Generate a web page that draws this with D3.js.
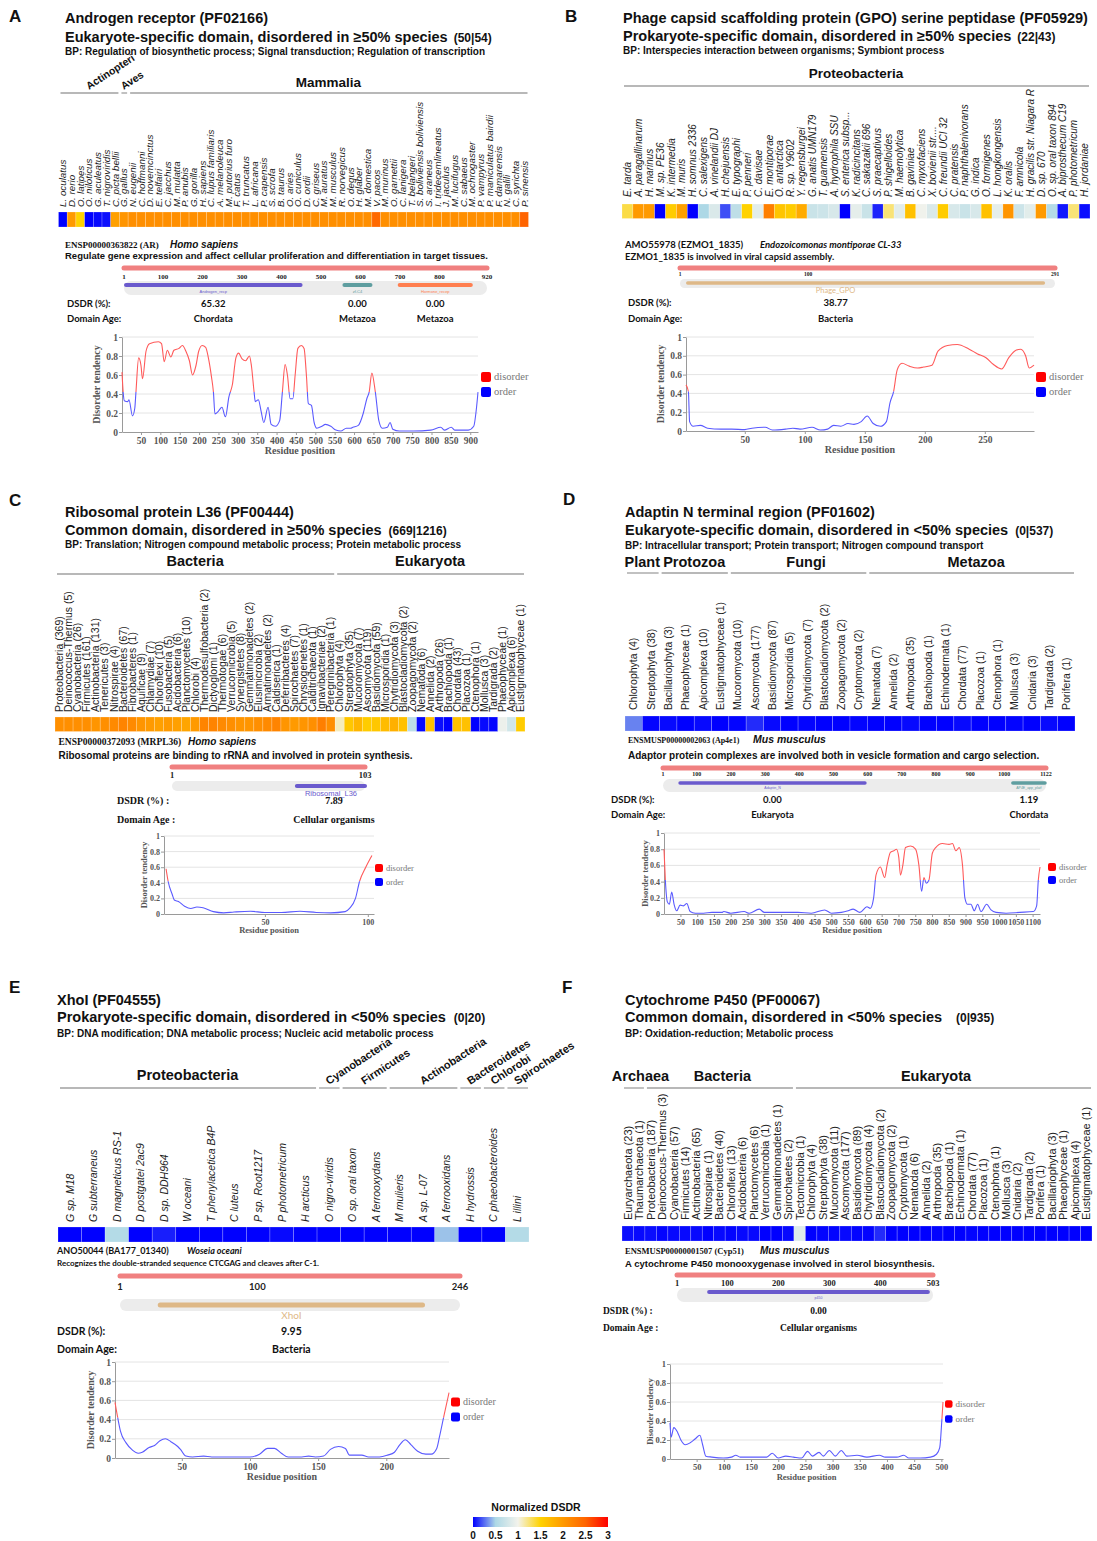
<!DOCTYPE html>
<html>
<head>
<meta charset="utf-8">
<script src="https://cdn.jsdelivr.net/npm/d3@7"></script>
<style>body{margin:0;background:#fff}</style>
</head>
<body>
<svg id="fig" width="1097" height="1541"></svg>
<script>
// ---------------- data ----------------
// Panel A
const titleA = ["Androgen receptor  (PF02166)", "Eukaryote-specific domain, disordered in \u226550% species", "(50|54)",
    "BP: Regulation of biosynthetic process; Signal transduction; Regulation of transcription"];
const speciesA = ["L. oculatus","D. rerio","O. latipes","O. niloticus","G. aculeatus","T. nigroviridis","C. picta bellii","G. gallus",
    "N. eugenii","C. hoffmanni","D. novemcinctus","E. telfairi","C. jacchus","M. mulatta","P. anubis","G. gorilla","H. sapiens",
    "C. lupus familiaris","A. melanoleuca","M. putorius furo","F. catus","T. truncatus","L. africana","P. capensis","S. scrofa",
    "B. taurus","O. aries","O. cuniculus","D. ordii","C. griseus","M. auratus","M. musculus","R. norvegicus","O. degus","H. glaber",
    "M. domestica","V. pacos","M. murinus","O. garnettii","C. lanigera","T. belangeri","S. boliviensis boliviensis","S. araneus",
    "I. tridecemlineatus","J. jaculus","M. lucifugus","C. sabaeus","M. ochrogaster","P. vampyrus","P. maniculatus bairdii",
    "F. damarensis","N. galili","C. syrichta","P. sinensis"];
const dsdrA = [0.0,2.0,1.5,0.0,0.02,0.04,1.95,2.05,2.1,2.1,2.1,2.1,2.1,2.1,2.1,2.1,2.1,2.1,2.1,2.1,2.1,2.1,2.1,2.1,2.1,2.1,2.1,2.1,
    2.1,2.1,2.1,2.1,2.1,2.1,2.1,2.1,2.45,2.1,2.1,2.1,2.1,2.1,2.1,2.1,2.1,2.1,2.1,2.1,2.1,2.1,2.1,2.1,2.1,2.5];
const groupsA = [["Actinopteri",7],["Aves",1],["Mammalia",46]];
const proteinA = ["ENSP00000363822 (AR)", "Homo sapiens", "Regulate gene expression and affect cellular proliferation and differentiation in target tissues.", 920];
const protTicksA = [1,100,200,300,400,500,600,700,800,920];
const domainsA = [["Androgen_recp",6,448],["zf-C4",559,625],["Hormone_recep",699,879]];
const domDsdrA = ["65.32","0.00","0.00"];
const domAgeA = ["Chordata","Metazoa","Metazoa"];
const xTicksA = [50,100,150,200,250,300,350,400,450,500,550,600,650,700,750,800,850,900];
const profileA = [[1,0.63],[4,0.42],[7,0.33],[16,0.32],[19,0.34],[28,0.17],[34,0.25],[37,0.42],[44,0.78],[50,0.7],[54,0.56],[63,0.85],
    [72,0.93],[95,0.95],[103,0.93],[110,0.74],[118,0.86],[127,0.79],[135,0.86],[148,0.88],[157,0.91],[166,0.85],[175,0.75],[183,0.6],
    [192,0.7],[199,0.85],[208,0.91],[217,0.89],[224,0.78],[232,0.58],[237,0.42],[241,0.19],[250,0.22],[259,0.26],[268,0.16],
    [277,0.37],[286,0.5],[295,0.78],[302,0.83],[311,0.77],[320,0.75],[330,0.8],[335,0.7],[342,0.42],[345,0.32],[353,0.34],
    [360,0.22],[367,0.1],[378,0.26],[386,0.08],[397,0.06],[408,0.12],[415,0.42],[422,0.71],[428,0.6],[435,0.35],[442,0.35],
    [448,0.6],[455,0.88],[464,0.91],[471,0.88],[477,0.6],[482,0.3],[490,0.28],[497,0.1],[504,0.04],[517,0.06],[526,0.08],
    [540,0.06],[553,0.02],[566,0.01],[580,0.04],[591,0.04],[597,0.05],[611,0.07],[624,0.2],[633,0.35],[639,0.42],[646,0.62],
    [655,0.42],[664,0.12],[673,0.04],[686,0.05],[693,0.1],[700,0.03],[717,0.01],[753,0.01],[798,0.02],[824,0.05],[833,0.02],
    [851,0.05],[860,0.02],[895,0.02],[909,0.06],[916,0.25],[920,0.42]];

// Panel B
const titleB = ["Phage capsid scaffolding protein (GPO) serine peptidase (PF05929)", "Prokaryote-specific domain, disordered in \u226550% species", "(22|43)",
    "BP: Interspecies interaction between organisms; Symbiont process"];
const speciesB = ["E. tarda","A. paragallinarum","H. marinus","M. sp. PE36","K. intermedia","M. muris","H. somnus 2336","C. salexigens",
    "A. vinelandii DJ","H. chejuensis","E. typographi","P. penneri","C. davisae","E. montiporae","O. antarctica","R. sp. Y9602",
    "Y. regensburgei","G. anatis UMN179","T. guamensis","A. hydrophila SSU","S. enterica subsp...","K. radicincitans","C. sakazakii 696",
    "S. praecaptivus","P. shigelloides","M. haemolytica","B. gaviniae","C. myxofaciens","X. bovienii str....","C. freundii UCI 32",
    "C. pratensis","P. naphthalenivorans","G. indica","O. formigenes","L. hongkongensis","K. oralis","F. amnicola",
    "H. gracilis str. Niagara R","D. sp. 670","O. sp. oral taxon 894","A. biprosthecum C19","P. photometricum","H. jordaniae"];
const dsdrB = [1.35,2.0,2.0,0.0,1.55,1.95,0.0,0.5,0.82,0.18,0.62,1.5,0.88,2.25,1.62,1.55,1.85,0.7,0.72,0.8,0.0,0.9,0.7,0.08,
    1.25,0.88,1.65,0.98,0.82,1.55,0.8,0.7,0.8,1.65,0.9,2.05,0.72,0.88,2.0,0.55,0.05,1.25,0.03];
const groupsB = [["Proteobacteria",43]];
const proteinB = ["AMO55978 (EZMO1_1835)", "Endozoicomonas montiporae CL-33", "EZMO1_1835 is involved in viral capsid assembly.", 291];
const protTicksB = [1,100,291];
const domainsB = [["Phage_GPO",7,282]];
const domDsdrB = ["38.77"];
const domAgeB = ["Bacteria"];
const xTicksB = [50,100,150,200,250];
const profileB = [[1,0.49],[3,0.42],[4,0.1],[7,0.05],[13,0.06],[19,0.03],[30,0.02],[39,0.02],[50,0.015],[56,0.03],[67,0.04],
    [73,0.01],[84,0.02],[90,0.03],[96,0.02],[106,0.04],[113,0.01],[119,0.02],[124,0.06],[130,0.05],[136,0.08],[141,0.07],
    [147,0.1],[152,0.16],[157,0.08],[163,0.05],[168,0.1],[171,0.3],[174,0.42],[177,0.65],[181,0.72],[187,0.69],[194,0.67],
    [199,0.68],[206,0.7],[211,0.85],[219,0.91],[227,0.92],[237,0.87],[244,0.82],[251,0.78],[257,0.71],[264,0.66],[270,0.78],
    [276,0.86],[280,0.87],[284,0.8],[287,0.67],[291,0.7]];

// Panel C
const titleC = ["Ribosomal protein L36  (PF00444)", "Common domain, disordered in \u226550% species", "(669|1216)",
    "BP: Translation; Nitrogen compound metabolic process; Protein metabolic process"];
const speciesC = ["Proteobacteria (369)","Deinococcus-Thermus (5)","Cyanobacteria (26)","Firmicutes (161)","Actinobacteria (131)",
    "Tenericutes (3)","Nitrospirae (4)","Bacteroidetes (67)","Fibrobacteres (1)","Aquificae (9)","Chlamydiae (7)","Chloroflexi (10)",
    "Fusobacteria (5)","Acidobacteria (6)","Planctomycetes (10)","Chlorobi (4)","Thermodesulfobacteria (2)","Dictyoglomi (1)",
    "Thermotogae (6)","Verrucomicrobia (5)","Synergistetes (8)","Gemmatimonadetes (2)","Elusimicrobia (2)","Armatimonadetes (2)",
    "Caldiserica (1)","Deferribacteres (4)","Spirochaetes (7)","Chrysiogenetes (1)","Calditrichaeota (1)","Ignavibacteriae (2)",
    "Peregrinibacteria (1)","Chlorophyta (4)","Streptophyta (35)","Mucoromycota (7)","Ascomycota (119)","Basidiomycota (59)",
    "Microsporidia (1)","Chytridiomycota (3)","Blastocladiomycota (2)","Zoopagomycota (2)","Nematoda (6)","Annelida (2)",
    "Arthropoda (26)","Brachiopoda (1)","Chordata (43)","Placozoa (1)","Ctenophora (1)","Mollusca (3)","Tardigrada (2)",
    "Phaeophyceae (1)","Apicomplexa (6)","Eustigmatophyceae (1)"];
const dsdrC = [2.1,2.1,2.1,2.1,2.05,2.1,2.15,2.2,2.15,2.05,2.0,1.95,2.0,1.95,1.9,2.0,2.2,2.2,2.15,2.1,2.05,2.05,2.1,2.15,2.2,
    2.05,2.0,2.05,2.1,2.25,2.1,1.1,1.6,1.75,1.55,1.6,1.7,1.8,1.65,0.6,0.02,1.65,0.03,0.0,1.65,1.65,0.0,0.02,0.01,0.95,0.75,1.55];
const groupsC = [["Bacteria",31],["Eukaryota",21]];
const proteinC = ["ENSP00000372093 (MRPL36)", "Homo sapiens", "Ribosomal proteins are binding to rRNA and involved in protein synthesis.", 103];
const protTicksC = [1,103];
const domainsC = [["Ribosomal_L36",67,103]];
const domDsdrC = ["7.89"];
const domAgeC = ["Cellular organisms"];
const xTicksC = [50,100];
const profileC = [[2,0.58],[3,0.42],[5,0.25],[6,0.18],[8,0.16],[11,0.1],[14,0.07],[17,0.09],[20,0.08],[25,0.03],[30,0.015],
    [35,0.025],[43,0.035],[50,0.02],[58,0.02],[67,0.035],[75,0.02],[82,0.015],[89,0.03],[91,0.07],[94,0.2],[96,0.42],[99,0.6],[102,0.75]];

// Panel D
const titleD = ["Adaptin N terminal region (PF01602)", "Eukaryote-specific domain, disordered in <50% species", "(0|537)",
    "BP: Intracellular transport; Protein transport; Nitrogen compound transport"];
const speciesD = ["Chlorophyta (4)","Streptophyta (38)","Bacillariophyta (3)","Phaeophyceae (1)","Apicomplexa (10)",
    "Eustigmatophyceae (1)","Mucoromycota (10)","Ascomycota (177)","Basidiomycota (87)","Microsporidia (5)","Chytridiomycota (7)",
    "Blastocladiomycota (2)","Zoopagomycota (2)","Cryptomycota (2)","Nematoda (7)","Annelida (2)","Arthropoda (35)",
    "Brachiopoda (1)","Echinodermata (1)","Chordata (77)","Placozoa (1)","Ctenophora (1)","Mollusca (3)","Cnidaria (3)",
    "Tardigrada (2)","Porifera (1)"];
const dsdrD = [0.3,0.01,0.02,0.0,0.02,0.0,0.01,0.1,0.02,0.0,0.01,0.0,0.0,0.01,0.0,0.0,0.02,0.0,0.0,0.02,0.0,0.0,0.01,0.0,0.02,0.0];
const groupsD = [["Plant",2],["Protozoa",4],["Fungi",8],["Metazoa",12]];
const proteinD = ["ENSMUSP00000002063 (Ap4e1)", "Mus musculus", "Adaptor protein complexes are involved both in vesicle formation and cargo selection.", 1122];
const protTicksD = [1,100,200,300,400,500,600,700,800,900,1000,1122];
const domainsD = [["Adaptin_N",51,592],["AP4E_app_platf",1025,1119]];
const domDsdrD = ["0.00","1.19"];
const domAgeD = ["Eukaryota","Chordata"];
const xTicksD = [50,100,150,200,250,300,350,400,450,500,550,600,650,700,750,800,850,900,950,1000,1050,1100];
const profileD = [[1,0.8],[5,0.42],[11,0.15],[17,0.12],[24,0.27],[31,0.12],[39,0.04],[49,0.11],[59,0.1],[69,0.13],[79,0.03],
    [94,0.01],[119,0.01],[144,0.02],[174,0.02],[179,0.03],[200,0.01],[240,0.03],[255,0.01],[285,0.06],[300,0.02],[340,0.02],
    [400,0.02],[440,0.01],[480,0.05],[500,0.01],[530,0.02],[550,0.04],[565,0.06],[585,0.02],[606,0.09],[616,0.07],[626,0.2],
    [633,0.48],[646,0.58],[659,0.45],[666,0.6],[676,0.76],[686,0.78],[694,0.8],[701,0.7],[706,0.48],[713,0.6],[721,0.82],
    [736,0.84],[751,0.8],[761,0.6],[769,0.28],[776,0.45],[783,0.38],[791,0.42],[801,0.75],[811,0.82],[831,0.87],[851,0.86],
    [861,0.87],[871,0.78],[881,0.82],[891,0.6],[898,0.2],[906,0.12],[916,0.12],[926,0.04],[936,0.12],[946,0.03],[963,0.12],
    [976,0.05],[991,0.02],[1021,0.01],[1062,0.02],[1102,0.03],[1112,0.1],[1117,0.42],[1122,0.58]];

// Panel E
const titleE = ["XhoI (PF04555)", "Prokaryote-specific domain, disordered in <50% species", "(0|20)",
    "BP: DNA modification; DNA metabolic process; Nucleic acid metabolic process"];
const speciesE = ["G sp. M18","G subterraneus","D magneticus RS-1","D postgatei 2ac9","D sp. DDH964","W oceani",
    "T phenylacetica B4P","C luteus","P sp. Root1217","P photometricum","H arcticus","O nigro-viridis","O sp. oral taxon",
    "A ferrooxydans","M mulieris","A sp. L-07","A ferrooxidans","H hydrossis","C phaeobacteroides","L illini"];
const dsdrE = [0,0,0.55,0,0.07,0,0,0,0,0.02,0,0,0,0,0,0,0.45,0,0,0.55];
const groupsE = [["Proteobacteria",11],["Cyanobacteria",1],["Firmicutes",2],["Actinobacteria",3],["Bacteroidetes",1],["Chlorobi",1],["Spirochaetes",1]];
const proteinE = ["ANO50044 (BA177_01340)", "Woseia oceani", "Recognizes the double-stranded sequence CTCGAG and cleaves after C-1.", 246];
const protTicksE = [1,100,246];
const domainsE = [["XhoI",30,219]];
const domDsdrE = ["9.95"];
const domAgeE = ["Bacteria"];
const xTicksE = [50,100,150,200];
const profileE = [[1,0.58],[3,0.42],[5,0.28],[9,0.16],[14,0.08],[18,0.05],[21,0.06],[26,0.11],[30,0.13],[34,0.18],[38,0.2],
    [42,0.17],[47,0.12],[49,0.09],[53,0.02],[58,0.01],[66,0.02],[72,0.01],[87,0.01],[100,0.01],[107,0.04],[113,0.1],[118,0.1],
    [123,0.05],[128,0.01],[138,0.01],[143,0.02],[148,0.01],[154,0.02],[159,0.09],[165,0.12],[170,0.1],[173,0.03],[182,0.03],
    [187,0.01],[195,0.01],[201,0.03],[206,0.06],[210,0.14],[214,0.19],[218,0.14],[223,0.07],[229,0.04],[233,0.04],[237,0.1],
    [239,0.22],[242,0.42],[246,0.68]];

// Panel F
const titleF = ["Cytochrome P450 (PF00067)", "Common domain, disordered in <50% species", "(0|935)",
    "BP: Oxidation-reduction; Metabolic process"];
const speciesF = ["Euryarchaeota (23)","Thaumarchaeota (1)","Proteobacteria (187)","Deinococcus-Thermus (3)","Cyanobacteria (57)",
    "Firmicutes (14)","Actinobacteria (65)","Nitrospirae (1)","Bacteroidetes (40)","Chloroflexi (13)","Acidobacteria (6)",
    "Planctomycetes (6)","Verrucomicrobia (1)","Gemmatimonadetes (1)","Spirochaetes (2)","Tectomicrobia (1)","Chlorophyta (4)",
    "Streptophyta (38)","Mucoromycota (11)","Ascomycota (177)","Basidiomycota (89)","Chytridiomycota (4)","Blastocladiomycota (2)",
    "Zoopagomycota (2)","Cryptomycota (1)","Nematoda (6)","Annelida (2)","Arthropoda (35)","Brachiopoda (1)","Echinodermata (1)",
    "Chordata (77)","Placozoa (1)","Ctenophora (1)","Mollusca (3)","Cnidaria (2)","Tardigrada (2)","Porifera (1)",
    "Bacillariophyta (3)","Phaeophyceae (1)","Apicomplexa (4)","Eustigmatophyceae (1)"];
const dsdrF = [0.03,0.02,0.03,0.01,0.02,0.02,0.02,0,0.02,0.01,0.02,0.02,0,0,0.02,0.85,
    0,0.01,0.01,0.02,0.01,0.01,0.1,0,0,
    0,0,0.01,0,0,0.01,0,0,0,0,0,0,0,0,0,0];
const groupsF = [["Archaea",2],["Bacteria",13],["Eukaryota",26]];
const proteinF = ["ENSMUSP00000001507 (Cyp51)", "Mus musculus", "A cytochrome P450 monooxygenase involved in sterol biosynthesis.", 503];
const protTicksF = [1,100,200,300,400,503];
const domainsF = [["p450",64,493]];
const domDsdrF = ["0.00"];
const domAgeF = ["Cellular organisms"];
const xTicksF = [50,100,150,200,250,300,350,400,450,500];
const profileF = [[1,0.38],[3,0.23],[8,0.33],[15,0.28],[21,0.2],[29,0.15],[38,0.17],[47,0.21],[56,0.25],[61,0.15],[67,0.03],
    [78,0.02],[99,0.01],[114,0.02],[122,0.04],[130,0.02],[161,0.02],[179,0.02],[189,0.06],[200,0.01],[214,0.03],[228,0.02],
    [243,0.01],[254,0.08],[263,0.03],[275,0.07],[283,0.03],[294,0.09],[305,0.03],[316,0.09],[326,0.03],[345,0.04],[363,0.02],
    [386,0.04],[397,0.02],[418,0.02],[431,0.04],[440,0.01],[461,0.01],[480,0.02],[491,0.05],[497,0.12],[501,0.42],[503,0.6]];

// colour bar
const cbarTicks = [0,0.5,1,1.5,2,2.5,3];
const cbarLabels = ["0","0.5","1","1.5","2","2.5","3"];

// ---------------- styles ----------------
const SANS = "'Liberation Sans', Arial, sans-serif";
const SERIF = "'Liberation Serif', 'Times New Roman', serif";
const CAL = "Lato, 'Open Sans', sans-serif";

const colorDSDR = d3.scaleLinear()
    .domain(cbarTicks)
    .range(["#0000ff","#add8e6","#f3f3ec","#ffd200","#ff9a00","#ff6400","#ff0000"]);

const svg = d3.select("#fig");
svg.append("rect").attr("width", 1097).attr("height", 1541).attr("fill", "#fff");
const defs = svg.append("defs");

function txt(g, x, y, s, o) {
    o = o || {};
    return g.append("text")
        .attr("x", x).attr("y", y).text(s)
        .attr("font-family", o.ff || SANS)
        .attr("font-size", o.fs || 10)
        .attr("font-weight", o.fw || "bold")
        .attr("font-style", o.it ? "italic" : null)
        .attr("text-anchor", o.anchor || "start")
        .attr("fill", o.fill || "#111");
}

// title block
function drawHeader(letter, t, lay) {
    const g = svg.append("g");
    txt(g, lay.letter[0], lay.letter[1], letter, {fs: 17});
    txt(g, lay.tx, lay.ty[0], t[0], {fs: lay.tfs});
    const sub = txt(g, lay.tx, lay.ty[1], t[1], {fs: lay.tfs});
    const w = sub.node().getComputedTextLength();
    txt(g, lay.tx + w + lay.gap, lay.ty[1], t[2], {fs: 12});
    txt(g, lay.tx, lay.ty[2], t[3], {fs: lay.bfs});
}

// species heat strip with group brackets
function drawHeatmap(names, vals, groups, lay) {
    const g = svg.append("g");
    const x = d3.scaleBand().domain(d3.range(names.length)).range([lay.x0, lay.x1]);
    const bw = x.bandwidth();

    g.selectAll("rect.cell").data(vals).join("rect")
        .attr("class", "cell")
        .attr("x", (d, i) => x(i)).attr("y", lay.y)
        .attr("width", bw).attr("height", lay.h)
        .attr("fill", d => colorDSDR(d))
        .attr("stroke", "rgba(255,255,255,0.35)").attr("stroke-width", 0.6);

    g.selectAll("text.sp").data(names).join("text")
        .attr("class", "sp")
        .attr("transform", (d, i) => `translate(${x(i) + bw / 2 + lay.fs * 0.36},${lay.labelY}) rotate(-90)`)
        .attr("font-family", SANS).attr("font-size", lay.fs)
        .attr("font-style", lay.it ? "italic" : null)
        .attr("fill", "#222")
        .text(d => d);

    let start = 0;
    groups.forEach(([name, n], k) => {
        const a = x(start), b = x(start + n - 1) + bw;
        g.append("line")
            .attr("x1", a + 2).attr("x2", b - 1)
            .attr("y1", lay.lineY).attr("y2", lay.lineY)
            .attr("stroke", "#a0a0a0").attr("stroke-width", 1.3);
        const cx = (a + b) / 2;
        if (lay.rot && lay.rot[k]) {
            g.append("text")
                .attr("transform", `translate(${cx},${lay.lineY - 3}) rotate(-33)`)
                .attr("font-family", SANS).attr("font-size", lay.rfs).attr("font-weight", "bold")
                .attr("fill", "#111").text(name);
        } else {
            txt(g, cx + (lay.gdx ? lay.gdx[k] : 0), lay.lineY - lay.ggap, name, {fs: lay.gfs, anchor: "middle"});
        }
        start += n;
    });
}

// protein architecture block
function drawProtein(info, ticks, doms, dsdr, ages, lay) {
    const g = svg.append("g");
    const x = d3.scaleLinear().domain([1, info[3]]).range([lay.x0, lay.x1]);

    txt(g, lay.idX, lay.infoY, info[0], lay.idFont);
    txt(g, lay.spX, lay.infoY, info[1], {fs: lay.spFs, it: true, ff: lay.spFf || SANS});
    txt(g, lay.idX, lay.descY, info[2], lay.descFont);

    g.append("line")
        .attr("x1", x(1)).attr("x2", x(info[3]))
        .attr("y1", lay.barY).attr("y2", lay.barY)
        .attr("stroke", "#f08080").attr("stroke-width", 5).attr("stroke-linecap", "round");

    g.selectAll("text.pt").data(ticks).join("text")
        .attr("class", "pt")
        .attr("x", d => x(d)).attr("y", lay.tickY)
        .attr("text-anchor", "middle")
        .attr("font-family", lay.tickFont.ff).attr("font-size", lay.tickFont.fs)
        .attr("font-weight", "bold").attr("fill", "#222")
        .text(d => d);

    g.append("rect")
        .attr("x", x(1)).attr("y", lay.trackY)
        .attr("width", x(info[3]) - x(1)).attr("height", lay.trackH)
        .attr("rx", lay.trackH / 2)
        .attr("fill", "#ececec");

    doms.forEach(([name, s, e], i) => {
        g.append("line")
            .attr("x1", x(s)).attr("x2", x(e))
            .attr("y1", lay.domY).attr("y2", lay.domY)
            .attr("stroke", lay.domColors[i]).attr("stroke-width", lay.domW)
            .attr("stroke-linecap", "round");
        txt(g, x((s + e) / 2) + (lay.domLabelDx || 0), lay.domLabelY, name,
            {fs: lay.domLabelFs, fw: "normal", anchor: "middle", fill: lay.domColors[i], ff: lay.domFf || SANS});
    });

    txt(g, lay.labX, lay.dsdrY, lay.dsdrLabel, lay.rowFont);
    txt(g, lay.labX, lay.ageY, lay.ageLabel, lay.rowFont);
    doms.forEach(([name, s, e], i) => {
        const cx = x((s + e) / 2) + (lay.valDx || 0);
        txt(g, cx, lay.dsdrY, dsdr[i], Object.assign({}, lay.rowFont, {anchor: "middle"}));
        txt(g, cx, lay.ageY, ages[i], Object.assign({}, lay.rowFont, {anchor: "middle"}));
    });
}

// disorder profile plot
function drawProfile(id, data, len, ticks, lay) {
    const g = svg.append("g");
    const x = d3.scaleLinear().domain([1, len]).range([lay.x0, lay.x1]);
    const y = d3.scaleLinear().domain([0, 1]).range([lay.y0, lay.y1]);
    const yTicks = [0, 0.2, 0.4, 0.6, 0.8, 1];
    const thr = 0.42;

    g.selectAll("line.grid").data(yTicks.slice(1)).join("line")
        .attr("class", "grid")
        .attr("x1", lay.x0).attr("x2", lay.x1)
        .attr("y1", d => y(d)).attr("y2", d => y(d))
        .attr("stroke", "#e4e4e4");

    const ya = g.append("g").attr("transform", `translate(${lay.x0},0)`)
        .call(d3.axisLeft(y).tickValues(yTicks).tickSize(3).tickSizeOuter(0).tickFormat(d => String(+d.toFixed(1))));
    const xa = g.append("g").attr("transform", `translate(0,${lay.y0})`)
        .call(d3.axisBottom(x).tickValues(ticks).tickSize(3).tickSizeOuter(0).tickFormat(d3.format("d")));
    [ya, xa].forEach(a => {
        a.select(".domain").attr("stroke", "#9a9a9a");
        a.selectAll(".tick line").attr("stroke", "#9a9a9a");
        a.selectAll(".tick text")
            .attr("font-family", SERIF).attr("font-size", lay.tfs)
            .attr("font-weight", "bold").attr("fill", "#555");
    });
    ya.selectAll(".tick text").attr("x", -4);
    xa.selectAll(".tick text").attr("y", 5);

    defs.append("clipPath").attr("id", "hi" + id).append("rect")
        .attr("x", lay.x0 - 2).attr("y", y(1.1))
        .attr("width", lay.x1 - lay.x0 + 4).attr("height", y(thr) - y(1.1));
    defs.append("clipPath").attr("id", "lo" + id).append("rect")
        .attr("x", lay.x0 - 2).attr("y", y(thr))
        .attr("width", lay.x1 - lay.x0 + 4).attr("height", lay.y0 - y(thr) + 3);

    const line = d3.line()
        .x(d => x(d[0]))
        .y(d => y(d[1]))
        .curve(d3.curveMonotoneX);

    g.append("path").datum(data)
        .attr("d", line).attr("fill", "none")
        .attr("stroke", "#ff5a5a").attr("stroke-width", 1.1)
        .attr("clip-path", `url(#hi${id})`);
    g.append("path").datum(data)
        .attr("d", line).attr("fill", "none")
        .attr("stroke", "#5a5aff").attr("stroke-width", 1.1)
        .attr("clip-path", `url(#lo${id})`);

    // legend
    [["disorder", "#ff0000"], ["order", "#0000ff"]].forEach(([name, c], i) => {
        const cy = lay.legY[i];
        g.append("rect")
            .attr("x", lay.legX).attr("y", cy - lay.legS / 2)
            .attr("width", lay.legS).attr("height", lay.legS)
            .attr("rx", 2).attr("fill", c);
        txt(g, lay.legX + lay.legS + 3, cy + lay.legFs * 0.33, name,
            {ff: SERIF, fs: lay.legFs, fw: "normal", fill: "#777"});
    });

    txt(g, (lay.x0 + lay.x1) / 2, lay.xTitleY, "Residue position",
        {ff: SERIF, fs: lay.atfs, anchor: "middle", fill: "#555"});
    g.append("text")
        .attr("transform", `translate(${lay.yTitleX},${(lay.y0 + lay.y1) / 2}) rotate(-90)`)
        .attr("text-anchor", "middle")
        .attr("font-family", SERIF).attr("font-size", lay.atfs).attr("font-weight", "bold")
        .attr("fill", "#555")
        .text("Disorder tendency");
}

// ---------------- layout ----------------
const headA = {letter: [9, 22], tx: 65, ty: [22.5, 41.5, 54.5], tfs: 14.5, bfs: 10, gap: 6};
const headB = {letter: [565, 22], tx: 623, ty: [22.5, 41, 54], tfs: 14.5, bfs: 10, gap: 6};
const headC = {letter: [9, 506], tx: 65, ty: [516.5, 534.5, 548], tfs: 14.5, bfs: 10, gap: 7};
const headD = {letter: [563, 505], tx: 625, ty: [517, 534.5, 549], tfs: 14.5, bfs: 10, gap: 7};
const headE = {letter: [9, 993], tx: 57, ty: [1004.5, 1022, 1036.5], tfs: 14.5, bfs: 10, gap: 8};
const headF = {letter: [562, 993], tx: 625, ty: [1004.5, 1022, 1036.5], tfs: 14.5, bfs: 10, gap: 14};

const heatA = {x0: 58.5, x1: 528.5, y: 212, h: 15, labelY: 207, fs: 9.8, it: true, lineY: 93, gfs: 13.5, ggap: 6, rfs: 10.5, rot: [true, true, false]};
const heatB = {x0: 622, x1: 1090, y: 204, h: 14.5, labelY: 197, fs: 10, it: true, lineY: 86, gfs: 13.5, ggap: 8};
const heatC = {x0: 55, x1: 525, y: 717, h: 14.5, labelY: 712, fs: 10.5, it: false, lineY: 574, gfs: 14.5, ggap: 8};
const heatD = {x0: 625, x1: 1075, y: 716, h: 15, labelY: 710, fs: 10.5, it: false, lineY: 573, gfs: 14.5, ggap: 6, gdx: [0, 0, 8, 5]};
const heatE = {x0: 58, x1: 529, y: 1227, h: 15, labelY: 1222, fs: 10.5, it: true, lineY: 1088, gfs: 14.5, ggap: 8, rfs: 11,
    rot: [false, true, true, true, true, true, true]};
const heatF = {x0: 622, x1: 1092, y: 1226, h: 15, labelY: 1220, fs: 11, it: false, lineY: 1088, gfs: 14.5, ggap: 7, gdx: [7, 3, -7]};

const protA = {idX: 65, spX: 170, infoY: 247.5, descY: 259, idFont: {ff: SERIF, fs: 9}, spFs: 10, descFont: {fs: 9.5},
    x0: 124, x1: 487, barY: 268, tickY: 279, tickFont: {ff: SERIF, fs: 7}, trackY: 281, trackH: 14, domY: 285, domW: 4,
    domLabelY: 292.5, domLabelFs: 4, domColors: ["#6a5acd", "#5f9ea0", "#ff7f50"],
    labX: 67, dsdrY: 306.5, ageY: 321.5, dsdrLabel: "DSDR (%):", ageLabel: "Domain Age:", rowFont: {ff: CAL, fs: 9.5}};
const protB = {idX: 625, spX: 760, infoY: 248, descY: 260, idFont: {ff: CAL, fs: 9.5}, spFs: 9.5, spFf: CAL, descFont: {ff: CAL, fs: 9.5},
    x0: 680, x1: 1055, barY: 268, tickY: 276, tickFont: {ff: SERIF, fs: 5.5}, trackY: 279, trackH: 9, domY: 283, domW: 3.5,
    domLabelY: 293, domLabelFs: 7.5, domLabelDx: -30, domFf: CAL, domColors: ["#deb887"],
    labX: 628, dsdrY: 305.5, ageY: 321.5, dsdrLabel: "DSDR (%):", ageLabel: "Domain Age:", rowFont: {ff: CAL, fs: 9.5}, valDx: -30};
const protC = {idX: 58.5, spX: 188, infoY: 745, descY: 759, idFont: {ff: SERIF, fs: 9.5}, spFs: 10, descFont: {fs: 10},
    x0: 172, x1: 365, barY: 767, tickY: 777.5, tickFont: {ff: SERIF, fs: 8.5}, trackY: 781, trackH: 10, domY: 786, domW: 4,
    domLabelY: 795.5, domLabelFs: 7.5, domColors: ["#6a5acd"],
    labX: 117, dsdrY: 804, ageY: 823, dsdrLabel: "DSDR (%) :", ageLabel: "Domain Age :", rowFont: {ff: SERIF, fs: 10}, valDx: 3};
const protD = {idX: 628, spX: 753, infoY: 743, descY: 759, idFont: {ff: SERIF, fs: 8}, spFs: 10.5, descFont: {fs: 10},
    x0: 663, x1: 1046, barY: 768, tickY: 776, tickFont: {ff: SERIF, fs: 6}, trackY: 779, trackH: 13, domY: 783, domW: 3.5,
    domLabelY: 789, domLabelFs: 3.5, domColors: ["#6a5acd", "#5f9ea0"],
    labX: 611, dsdrY: 803, ageY: 817.5, dsdrLabel: "DSDR (%):", ageLabel: "Domain Age:", rowFont: {ff: CAL, fs: 9.5}};
const protE = {idX: 57, spX: 187, infoY: 1254, descY: 1266, idFont: {ff: CAL, fs: 9}, spFs: 9, spFf: CAL, descFont: {ff: CAL, fs: 8},
    x0: 120, x1: 460, barY: 1276, tickY: 1290, tickFont: {ff: CAL, fs: 9.5}, trackY: 1299, trackH: 12, domY: 1305, domW: 5,
    domLabelY: 1318.5, domLabelFs: 10, domFf: CAL, domColors: ["#deb887"],
    labX: 57, dsdrY: 1335, ageY: 1352.5, dsdrLabel: "DSDR (%):", ageLabel: "Domain Age:", rowFont: {ff: CAL, fs: 10.5}};
const protF = {idX: 625, spX: 760, infoY: 1254, descY: 1267, idFont: {ff: SERIF, fs: 8.5}, spFs: 10, descFont: {fs: 9.5},
    x0: 677, x1: 933, barY: 1275, tickY: 1285.5, tickFont: {ff: SERIF, fs: 8.5}, trackY: 1288, trackH: 14, domY: 1292, domW: 4,
    domLabelY: 1299, domLabelFs: 3.5, domColors: ["#6a5acd"],
    labX: 603, dsdrY: 1314, ageY: 1331, dsdrLabel: "DSDR (%) :", ageLabel: "Domain Age :", rowFont: {ff: SERIF, fs: 9.5}};

const plotA = {x0: 122, x1: 478, y0: 432, y1: 337, legX: 481, legY: [377, 392], legS: 10, legFs: 10.5, tfs: 9.5, atfs: 10, xTitleY: 453.5, yTitleX: 100};
const plotB = {x0: 686, x1: 1034, y0: 431, y1: 337, legX: 1036, legY: [377, 392], legS: 10, legFs: 10.5, tfs: 9.5, atfs: 10, xTitleY: 452.5, yTitleX: 664};
const plotC = {x0: 164, x1: 374, y0: 914, y1: 836, legX: 375, legY: [868, 882], legS: 8, legFs: 8.5, tfs: 8, atfs: 8.5, xTitleY: 933, yTitleX: 147};
const plotD = {x0: 664, x1: 1040, y0: 914, y1: 833, legX: 1048, legY: [867, 880], legS: 8, legFs: 8.5, tfs: 8, atfs: 8.5, xTitleY: 933, yTitleX: 648};
const plotE = {x0: 115, x1: 449, y0: 1458, y1: 1362, legX: 451, legY: [1402, 1417], legS: 9, legFs: 10, tfs: 9.5, atfs: 10, xTitleY: 1479.5, yTitleX: 94};
const plotF = {x0: 670, x1: 943, y0: 1459, y1: 1364, legX: 945, legY: [1404, 1419], legS: 7.5, legFs: 9, tfs: 8.5, atfs: 8.5, xTitleY: 1480, yTitleX: 653};

// ---------------- draw ----------------
drawHeader("A", titleA, headA);
drawHeatmap(speciesA, dsdrA, groupsA, heatA);
drawProtein(proteinA, protTicksA, domainsA, domDsdrA, domAgeA, protA);
drawProfile("A", profileA, proteinA[3], xTicksA, plotA);

drawHeader("B", titleB, headB);
drawHeatmap(speciesB, dsdrB, groupsB, heatB);
drawProtein(proteinB, protTicksB, domainsB, domDsdrB, domAgeB, protB);
drawProfile("B", profileB, proteinB[3], xTicksB, plotB);

drawHeader("C", titleC, headC);
drawHeatmap(speciesC, dsdrC, groupsC, heatC);
drawProtein(proteinC, protTicksC, domainsC, domDsdrC, domAgeC, protC);
drawProfile("C", profileC, proteinC[3], xTicksC, plotC);

drawHeader("D", titleD, headD);
drawHeatmap(speciesD, dsdrD, groupsD, heatD);
drawProtein(proteinD, protTicksD, domainsD, domDsdrD, domAgeD, protD);
drawProfile("D", profileD, proteinD[3], xTicksD, plotD);

drawHeader("E", titleE, headE);
drawHeatmap(speciesE, dsdrE, groupsE, heatE);
drawProtein(proteinE, protTicksE, domainsE, domDsdrE, domAgeE, protE);
drawProfile("E", profileE, proteinE[3], xTicksE, plotE);

drawHeader("F", titleF, headF);
drawHeatmap(speciesF, dsdrF, groupsF, heatF);
drawProtein(proteinF, protTicksF, domainsF, domDsdrF, domAgeF, protF);
drawProfile("F", profileF, proteinF[3], xTicksF, plotF);

// colour bar
const cb = svg.append("g");
const cbx = d3.scaleLinear().domain([0, 3]).range([473, 608]);
const grad = defs.append("linearGradient").attr("id", "cbar");
grad.selectAll("stop").data(cbarTicks).join("stop")
    .attr("offset", d => (d / 3 * 100) + "%")
    .attr("stop-color", d => colorDSDR(d));
cb.append("rect").attr("x", cbx(0)).attr("y", 1517).attr("width", cbx(3) - cbx(0)).attr("height", 10).attr("fill", "url(#cbar)");
txt(cb, 536, 1511, "Normalized DSDR", {fs: 10.5, anchor: "middle"});
cb.selectAll("text.cbt").data(cbarTicks).join("text")
    .attr("class", "cbt")
    .attr("x", d => cbx(d)).attr("y", 1539)
    .attr("text-anchor", "middle")
    .attr("font-family", SANS).attr("font-size", 10).attr("font-weight", "bold").attr("fill", "#111")
    .text((d, i) => cbarLabels[i]);
</script>
</body>
</html>
